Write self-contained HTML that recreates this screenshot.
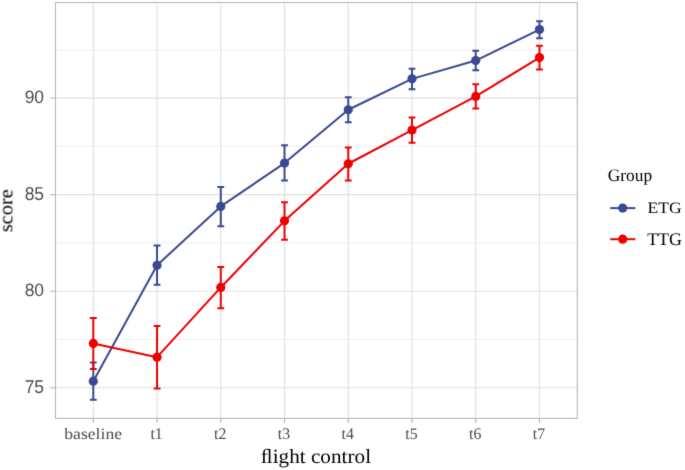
<!DOCTYPE html><html><head><meta charset="utf-8"><style>html,body{margin:0;padding:0;background:#fff;}svg{display:block;will-change:transform;}</style></head><body>
<svg width="685" height="470" viewBox="0 0 685 470">
<defs><filter id="bl" x="0" y="0" width="685" height="470" filterUnits="userSpaceOnUse" color-interpolation-filters="sRGB"><feConvolveMatrix order="3" kernelMatrix="0.0100 0.0800 0.0100 0.0800 0.6400 0.0800 0.0100 0.0800 0.0100" divisor="1" edgeMode="duplicate" preserveAlpha="false"/></filter></defs>
<rect x="0" y="0" width="685" height="470" fill="#fff"/>
<g filter="url(#bl)">
<rect x="0" y="0" width="685" height="470" fill="#fff"/>
<line x1="55.5" x2="577.3" y1="339.48" y2="339.48" stroke="#f0f0f0" stroke-width="1"/>
<line x1="55.5" x2="577.3" y1="242.93" y2="242.93" stroke="#f0f0f0" stroke-width="1"/>
<line x1="55.5" x2="577.3" y1="146.38" y2="146.38" stroke="#f0f0f0" stroke-width="1"/>
<line x1="55.5" x2="577.3" y1="49.83" y2="49.83" stroke="#f0f0f0" stroke-width="1"/>
<line x1="55.5" x2="577.3" y1="387.75" y2="387.75" stroke="#e0e0e0" stroke-width="1.1"/>
<line x1="55.5" x2="577.3" y1="291.20" y2="291.20" stroke="#e0e0e0" stroke-width="1.1"/>
<line x1="55.5" x2="577.3" y1="194.65" y2="194.65" stroke="#e0e0e0" stroke-width="1.1"/>
<line x1="55.5" x2="577.3" y1="98.10" y2="98.10" stroke="#e0e0e0" stroke-width="1.1"/>
<line x1="93.30" x2="93.30" y1="2.5" y2="418.4" stroke="#e0e0e0" stroke-width="1.1"/>
<line x1="157.04" x2="157.04" y1="2.5" y2="418.4" stroke="#e0e0e0" stroke-width="1.1"/>
<line x1="220.78" x2="220.78" y1="2.5" y2="418.4" stroke="#e0e0e0" stroke-width="1.1"/>
<line x1="284.52" x2="284.52" y1="2.5" y2="418.4" stroke="#e0e0e0" stroke-width="1.1"/>
<line x1="348.26" x2="348.26" y1="2.5" y2="418.4" stroke="#e0e0e0" stroke-width="1.1"/>
<line x1="412.00" x2="412.00" y1="2.5" y2="418.4" stroke="#e0e0e0" stroke-width="1.1"/>
<line x1="475.74" x2="475.74" y1="2.5" y2="418.4" stroke="#e0e0e0" stroke-width="1.1"/>
<line x1="539.48" x2="539.48" y1="2.5" y2="418.4" stroke="#e0e0e0" stroke-width="1.1"/>
<path d="M89.90 362.45H96.70M93.30 362.45V399.85M89.90 399.85H96.70" stroke="#3B4992" stroke-width="2.0" fill="none"/>
<path d="M153.64 245.55H160.44M157.04 245.55V284.75M153.64 284.75H160.44" stroke="#3B4992" stroke-width="2.0" fill="none"/>
<path d="M217.38 186.95H224.18M220.78 186.95V226.25M217.38 226.25H224.18" stroke="#3B4992" stroke-width="2.0" fill="none"/>
<path d="M281.12 145.35H287.92M284.52 145.35V180.45M281.12 180.45H287.92" stroke="#3B4992" stroke-width="2.0" fill="none"/>
<path d="M344.86 97.15H351.66M348.26 97.15V122.25M344.86 122.25H351.66" stroke="#3B4992" stroke-width="2.0" fill="none"/>
<path d="M408.60 68.75H415.40M412.00 68.75V89.25M408.60 89.25H415.40" stroke="#3B4992" stroke-width="2.0" fill="none"/>
<path d="M472.34 50.85H479.14M475.74 50.85V70.35M472.34 70.35H479.14" stroke="#3B4992" stroke-width="2.0" fill="none"/>
<path d="M536.08 21.15H542.88M539.48 21.15V38.15M536.08 38.15H542.88" stroke="#3B4992" stroke-width="2.0" fill="none"/>
<path d="M89.90 318.05H96.70M93.30 318.05V369.05M89.90 369.05H96.70" stroke="#EE0000" stroke-width="2.0" fill="none"/>
<path d="M153.64 325.95H160.44M157.04 325.95V388.55M153.64 388.55H160.44" stroke="#EE0000" stroke-width="2.0" fill="none"/>
<path d="M217.38 266.95H224.18M220.78 266.95V308.15M217.38 308.15H224.18" stroke="#EE0000" stroke-width="2.0" fill="none"/>
<path d="M281.12 202.25H287.92M284.52 202.25V239.75M281.12 239.75H287.92" stroke="#EE0000" stroke-width="2.0" fill="none"/>
<path d="M344.86 147.45H351.66M348.26 147.45V180.45M344.86 180.45H351.66" stroke="#EE0000" stroke-width="2.0" fill="none"/>
<path d="M408.60 117.45H415.40M412.00 117.45V142.65M408.60 142.65H415.40" stroke="#EE0000" stroke-width="2.0" fill="none"/>
<path d="M472.34 84.25H479.14M475.74 84.25V108.45M472.34 108.45H479.14" stroke="#EE0000" stroke-width="2.0" fill="none"/>
<path d="M536.08 45.85H542.88M539.48 45.85V69.55M536.08 69.55H542.88" stroke="#EE0000" stroke-width="2.0" fill="none"/>
<polyline points="93.30,381.15 157.04,265.25 220.78,206.45 284.52,163.05 348.26,109.75 412.00,78.85 475.74,60.55 539.48,29.55" stroke="#3B4992" stroke-width="2.0" fill="none" stroke-linejoin="round"/>
<polyline points="93.30,343.45 157.04,357.15 220.78,287.45 284.52,220.85 348.26,163.75 412.00,130.05 475.74,96.45 539.48,57.55" stroke="#EE0000" stroke-width="2.0" fill="none" stroke-linejoin="round"/>
<circle cx="93.30" cy="381.15" r="4.6" fill="#3B4992"/>
<circle cx="157.04" cy="265.25" r="4.6" fill="#3B4992"/>
<circle cx="220.78" cy="206.45" r="4.6" fill="#3B4992"/>
<circle cx="284.52" cy="163.05" r="4.6" fill="#3B4992"/>
<circle cx="348.26" cy="109.75" r="4.6" fill="#3B4992"/>
<circle cx="412.00" cy="78.85" r="4.6" fill="#3B4992"/>
<circle cx="475.74" cy="60.55" r="4.6" fill="#3B4992"/>
<circle cx="539.48" cy="29.55" r="4.6" fill="#3B4992"/>
<circle cx="93.30" cy="343.45" r="4.6" fill="#EE0000"/>
<circle cx="157.04" cy="357.15" r="4.6" fill="#EE0000"/>
<circle cx="220.78" cy="287.45" r="4.6" fill="#EE0000"/>
<circle cx="284.52" cy="220.85" r="4.6" fill="#EE0000"/>
<circle cx="348.26" cy="163.75" r="4.6" fill="#EE0000"/>
<circle cx="412.00" cy="130.05" r="4.6" fill="#EE0000"/>
<circle cx="475.74" cy="96.45" r="4.6" fill="#EE0000"/>
<circle cx="539.48" cy="57.55" r="4.6" fill="#EE0000"/>
<rect x="55.5" y="2.5" width="521.80" height="415.90" fill="none" stroke="#b8b8b8" stroke-width="1.1"/>
<line x1="50.2" x2="55.5" y1="387.75" y2="387.75" stroke="#b3b3b3" stroke-width="1.1"/>
<text transform="translate(44.08,393.00) scale(0.9300,0.9831)" text-anchor="end" text-rendering="geometricPrecision" font-family="Liberation Sans, sans-serif" font-size="18.8" fill="#4d4d4d">75</text>
<line x1="50.2" x2="55.5" y1="291.20" y2="291.20" stroke="#b3b3b3" stroke-width="1.1"/>
<text transform="translate(44.08,296.00) scale(0.9300,0.9488)" text-anchor="end" text-rendering="geometricPrecision" font-family="Liberation Sans, sans-serif" font-size="18.8" fill="#4d4d4d">80</text>
<line x1="50.2" x2="55.5" y1="194.65" y2="194.65" stroke="#b3b3b3" stroke-width="1.1"/>
<text transform="translate(44.08,200.00) scale(0.9300,0.9907)" text-anchor="end" text-rendering="geometricPrecision" font-family="Liberation Sans, sans-serif" font-size="18.8" fill="#4d4d4d">85</text>
<line x1="50.2" x2="55.5" y1="98.10" y2="98.10" stroke="#b3b3b3" stroke-width="1.1"/>
<text transform="translate(44.08,103.00) scale(0.9300,0.9564)" text-anchor="end" text-rendering="geometricPrecision" font-family="Liberation Sans, sans-serif" font-size="18.8" fill="#4d4d4d">90</text>
<line x1="93.30" x2="93.30" y1="418.4" y2="422.8" stroke="#b3b3b3" stroke-width="1.1"/>
<text transform="translate(93.16,439.00) scale(0.9820,0.8807)" text-anchor="middle" text-rendering="geometricPrecision" font-family="Liberation Serif, serif" font-size="18" fill="#4d4d4d">baseline</text>
<line x1="157.04" x2="157.04" y1="418.4" y2="422.8" stroke="#b3b3b3" stroke-width="1.1"/>
<text transform="translate(156.52,439.00) scale(0.8775,0.8982)" text-anchor="middle" text-rendering="geometricPrecision" font-family="Liberation Serif, serif" font-size="18" fill="#4d4d4d">t1</text>
<line x1="220.78" x2="220.78" y1="418.4" y2="422.8" stroke="#b3b3b3" stroke-width="1.1"/>
<text transform="translate(220.26,439.00) scale(0.8775,0.8982)" text-anchor="middle" text-rendering="geometricPrecision" font-family="Liberation Serif, serif" font-size="18" fill="#4d4d4d">t2</text>
<line x1="284.52" x2="284.52" y1="418.4" y2="422.8" stroke="#b3b3b3" stroke-width="1.1"/>
<text transform="translate(284.00,439.00) scale(0.8775,0.8982)" text-anchor="middle" text-rendering="geometricPrecision" font-family="Liberation Serif, serif" font-size="18" fill="#4d4d4d">t3</text>
<line x1="348.26" x2="348.26" y1="418.4" y2="422.8" stroke="#b3b3b3" stroke-width="1.1"/>
<text transform="translate(347.74,439.00) scale(0.8775,0.8982)" text-anchor="middle" text-rendering="geometricPrecision" font-family="Liberation Serif, serif" font-size="18" fill="#4d4d4d">t4</text>
<line x1="412.00" x2="412.00" y1="418.4" y2="422.8" stroke="#b3b3b3" stroke-width="1.1"/>
<text transform="translate(411.48,439.00) scale(0.8775,0.8982)" text-anchor="middle" text-rendering="geometricPrecision" font-family="Liberation Serif, serif" font-size="18" fill="#4d4d4d">t5</text>
<line x1="475.74" x2="475.74" y1="418.4" y2="422.8" stroke="#b3b3b3" stroke-width="1.1"/>
<text transform="translate(475.22,439.00) scale(0.8775,0.8982)" text-anchor="middle" text-rendering="geometricPrecision" font-family="Liberation Serif, serif" font-size="18" fill="#4d4d4d">t6</text>
<line x1="539.48" x2="539.48" y1="418.4" y2="422.8" stroke="#b3b3b3" stroke-width="1.1"/>
<text transform="translate(538.96,439.00) scale(0.8775,0.8982)" text-anchor="middle" text-rendering="geometricPrecision" font-family="Liberation Serif, serif" font-size="18" fill="#4d4d4d">t7</text>
<text transform="translate(315.94,463.00) scale(1.0198,0.9735)" text-anchor="middle" text-rendering="geometricPrecision" font-family="Liberation Serif, serif" font-size="20.8" fill="#000">ﬂight control</text>
<text transform="translate(12.31,210.72) rotate(-90) scale(0.9952,0.9534)" text-anchor="middle" text-rendering="geometricPrecision" font-family="Liberation Serif, serif" font-size="20.5" fill="#000">score</text>
<text transform="translate(607.79,181.00) scale(0.9904,1.0034)" text-anchor="start" text-rendering="geometricPrecision" font-family="Liberation Serif, serif" font-size="17.5" fill="#000">Group</text>
<line x1="610.2" x2="635.3" y1="208.1" y2="208.1" stroke="#3B4992" stroke-width="2.0"/>
<circle cx="622.7" cy="208.1" r="4.6" fill="#3B4992"/>
<text transform="translate(647.60,213.00) scale(1.0010,0.9066)" text-anchor="start" text-rendering="geometricPrecision" font-family="Liberation Serif, serif" font-size="17.5" fill="#000">ETG</text>
<line x1="610.2" x2="635.3" y1="239.2" y2="239.2" stroke="#EE0000" stroke-width="2.0"/>
<circle cx="622.7" cy="239.2" r="4.6" fill="#EE0000"/>
<text transform="translate(647.18,245.00) scale(1.0225,1.0094)" text-anchor="start" text-rendering="geometricPrecision" font-family="Liberation Serif, serif" font-size="17.5" fill="#000">TTG</text>
</g>
</svg></body></html>
